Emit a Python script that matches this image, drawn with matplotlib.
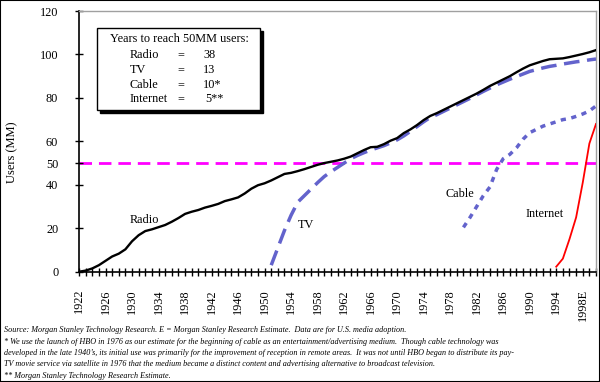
import numpy as np
import matplotlib.pyplot as plt
from matplotlib.patches import Rectangle

plt.rcParams['font.family'] = ['Liberation Serif', 'DejaVu Serif']

radio_years = list(range(1922, 2001))
radio = [0, 0.5, 1.5, 3, 5, 7, 8.3, 10.3, 14, 16.8, 18.7, 19.5, 20.5, 21.5, 23, 24.7,
         26.6, 27.6, 28.4, 29.5, 30.3, 31.2, 32.5, 33.3, 34.2, 36, 38.2, 39.8, 40.7, 42,
         43.5, 45, 45.5, 46.3, 47.2, 48.2, 49.2, 50, 50.6, 51.2, 52, 53, 54.5, 56, 57.3,
         57.5, 58.7, 60.3, 61.5, 63.8, 65.5, 67.5, 69.8, 71.7, 73, 74.5, 76, 77.5, 79,
         80.5, 82, 83.7, 85.5, 87, 88.5, 90, 91.8, 93.5, 95, 96, 97, 97.8, 98, 98.2, 98.8,
         99.5, 100.2, 101, 102]

tv_years = list(range(1951, 2001))
tv = [3, 11, 19, 26, 32, 35, 38, 41, 43.8, 46, 48, 50, 52, 53.5, 54.8, 56, 57, 58,
      59.3, 60.7, 62.5, 64.6, 66.8, 69, 71, 72.3, 73.8, 75.3, 76.8, 78.3, 79.8, 81.4,
      83, 84.5, 86, 87.3, 88.6, 89.8, 91, 92.2, 93, 93.8, 94.5, 95, 95.6, 96.1, 96.6,
      97, 97.5, 97.9]

cable_years = list(range(1980, 2001))
cable = [20.4, 25, 30, 35, 39, 47, 52, 54, 57, 61, 64, 65.5, 67, 68, 69, 70, 70.5, 71.5,
         72.6, 74, 76.3]

internet_years = list(range(1994, 2001))
internet = [2.3, 6, 15, 25, 41, 59, 68]

legend_names = ['Radio', 'TV', 'Cable', 'Internet']
legend_years = ['38', '13', '10*', '5**']

yticks = [0, 20, 40, 50, 60, 80, 100, 120]
label_years = list(range(1922, 2000, 4))
label_text = [str(y) if y != 1998 else '1998E' for y in label_years]

notes = [
    'Source: Morgan Stanley Technology Research. E = Morgan Stanley Research Estimate.  Data are for U.S. media adoption.',
    '* We use the launch of HBO in 1976 as our estimate for the beginning of cable as an entertainment/advertising medium.  Though cable technology was',
    'developed in the late 1940\u2019s, its initial use was primarily for the improvement of reception in remote areas.  It was not until HBO began to distribute its pay-',
    'TV movie service via satellite in 1976 that the medium became a distinct content and advertising alternative to broadcast television.',
    '** Morgan Stanley Technology Research Estimate.',
]

W, H = 600, 382
fig = plt.figure(figsize=(6, 3.82), dpi=100)
ax = fig.add_axes([79 / W, 1 - 271.7 / H, (596 - 79) / W, (271.7 - 11) / H])

blue = '#6363CC'
ax.axhline(50, color='#FF00FF', lw=2, dashes=(4.5, 2.5), zorder=1)
ax.plot(radio_years, radio, color='black', lw=1.7, zorder=5)
ax.plot(tv_years, tv, color=blue, lw=2.5, dashes=(4.5, 2.2), zorder=4)
ax.plot(cable_years, cable, color=blue, lw=2.5, dashes=(1.5, 1.6), zorder=4)
ax.plot(internet_years, internet, color='red', lw=1.3, zorder=5)

ax.set_xlim(1922, 2000)
ax.set_ylim(0, 120)
ax.set_yticks(yticks)
ax.set_xticks(range(1922, 2001), minor=False)
ax.set_xticklabels([label_text[label_years.index(y)] if y in label_years else '' for y in range(1922, 2001)],
                   rotation=90)
ax.tick_params(axis='both', direction='inout', length=6, width=1, labelsize=8.8, colors='black')
ax.tick_params(axis='x', pad=9.5)
ax.tick_params(axis='y', pad=12)
ax.set_ylabel('Users (MM)', fontsize=9)
ax.yaxis.set_label_coords(-0.117, 0.46)

for side in ['top', 'right']:
    ax.spines[side].set_color('#A0A0A0')
    ax.spines[side].set_linewidth(1)
ax.spines['left'].set_linewidth(1.2)
ax.spines['bottom'].set_linewidth(1.2)

ax.text(1931.85, 24, 'Radio', fontsize=8.8, ha='center', va='center')
ax.text(1956.2, 21.5, 'TV', fontsize=8.8, ha='center', va='center')
ax.text(1979.4, 35.7, 'Cable', fontsize=8.8, ha='center', va='center')
ax.text(1992.3, 26.7, 'Internet', fontsize=8.8, ha='center', va='center')

# box with the years-to-50MM summary
def fx(px):
    return px / W

def fy(py):
    return 1 - py / H

fig.patches.append(Rectangle((fx(100), fy(113)), fx(163) - fx(0), fy(0) - fy(82),
                             transform=fig.transFigure, facecolor='black', edgecolor='black', zorder=2))
fig.patches.append(Rectangle((fx(97), fy(110)), fx(163) - fx(0), fy(0) - fy(82),
                             transform=fig.transFigure, facecolor='white', edgecolor='black', lw=1, zorder=3))
fig.text(fx(110), fy(39), 'Years to reach 50MM users:', fontsize=8.8, va='center', zorder=4)
for i, (n, v) in enumerate(zip(legend_names, legend_years)):
    yy = fy(55.5 + i * 14.6)
    fig.text(fx(130), yy, n, fontsize=8.8, va='center', zorder=4)
    fig.text(fx(181), yy, '=', fontsize=8.8, va='center', ha='center', zorder=4)
    fig.text(fx(203 if i < 3 else 205.5), yy, v, fontsize=8.8, va='center', zorder=4)

for i, line in enumerate(notes):
    fig.text(fx(4), fy(330 + i * 11.5), line, fontsize=5.9, style='italic', va='center')

fig.patches.append(Rectangle((0, 0), 1, 1, transform=fig.transFigure, fill=False,
                             edgecolor='black', lw=1.5))

fig.savefig('out.png', dpi=100)
